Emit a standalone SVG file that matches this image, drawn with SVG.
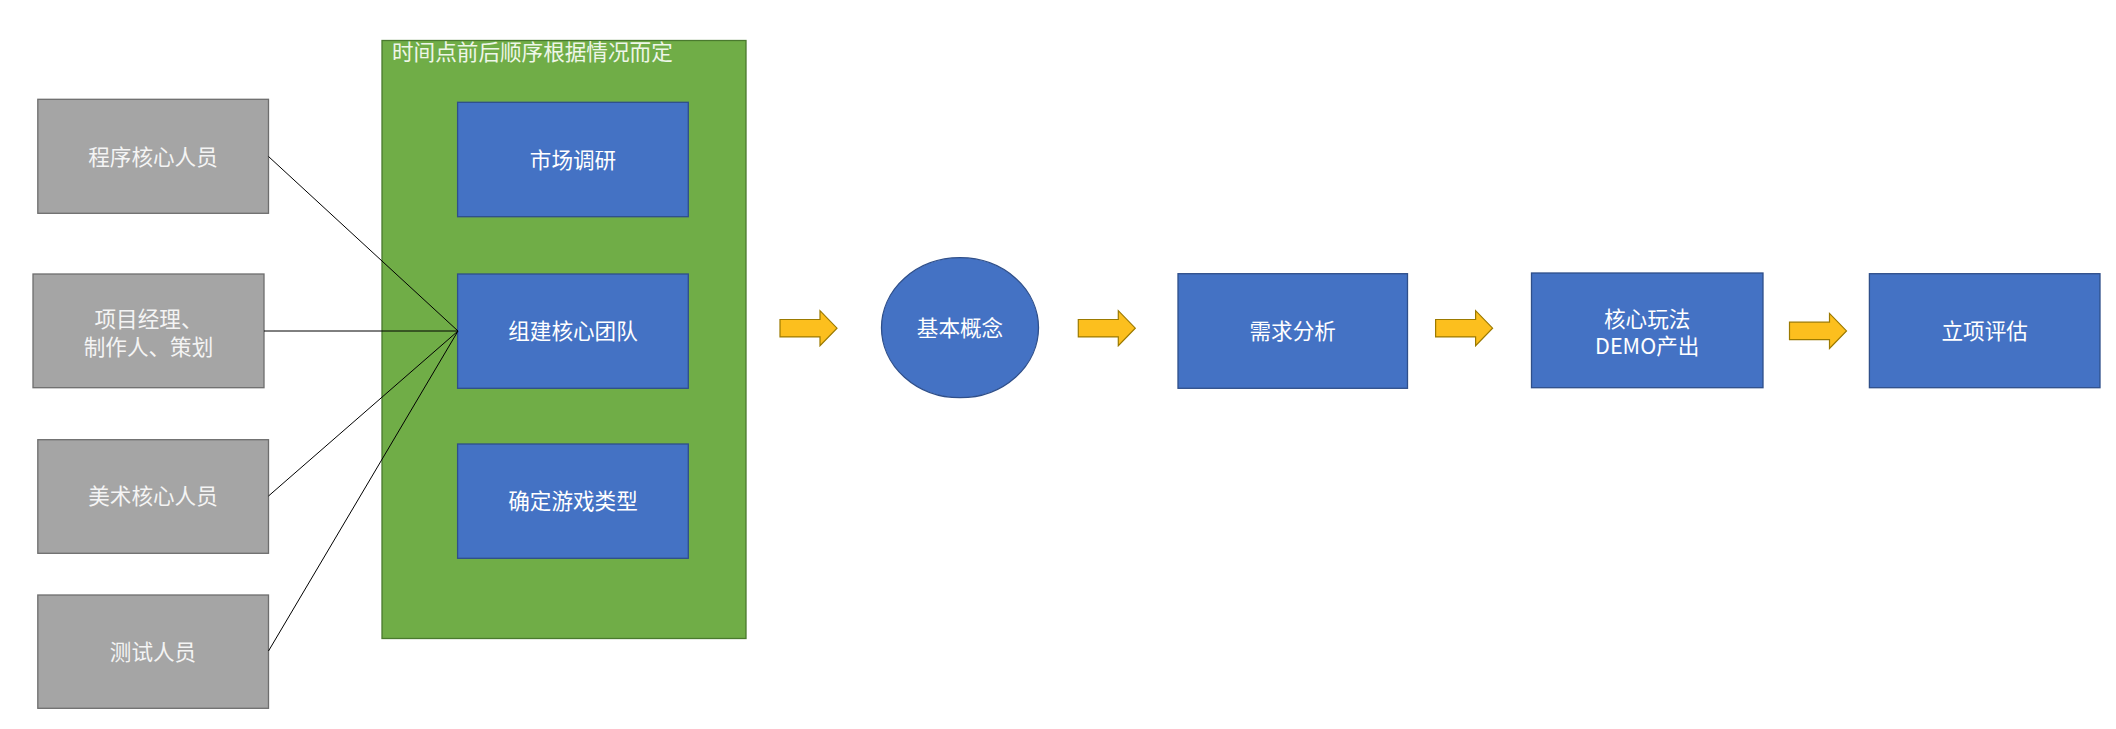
<svg xmlns="http://www.w3.org/2000/svg" width="2116" height="729" viewBox="0 0 2116 729">
<style>
text{font-family:"Noto Sans CJK SC","Noto Sans",sans-serif;font-size:21.6px;text-anchor:middle}
.gray{fill:#a5a5a5;stroke:#6e6e6e;stroke-width:1.3}
.blue{fill:#4472c4;stroke:#2f4f8a;stroke-width:1.3}
.green{fill:#70ad47;stroke:#4a7a2e;stroke-width:1.3}
.tg{fill:#f4f4f4}
.tb{fill:#ffffff}
.arrow{fill:#fcbf1e;stroke:#9c7a00;stroke-width:1.2}
.conn{stroke:#000;stroke-width:1;fill:none}
</style>
<defs>
<path id="blk" d="M0,-8.7 H40 V-17.5 L57,0 L40,17.5 V8.7 H0 Z"/>
</defs>
<g id="group-timeline">
<rect class="green" x="382" y="40.5" width="364" height="598"/>
<text x="392" y="60" style="text-anchor:start;fill:#eef6e8">时间点前后顺序根据情况而定</text>
</g>
<g id="market">
<rect class="blue" x="457.6" y="102.3" width="230.7" height="114.4"/>
<text class="tb" x="573" y="167.5">市场调研</text>
</g>
<g id="team">
<rect class="blue" x="457.6" y="274" width="230.7" height="114.3"/>
<text class="tb" x="573" y="339">组建核心团队</text>
</g>
<g id="genre">
<rect class="blue" x="457.6" y="444" width="230.7" height="114.3"/>
<text class="tb" x="573" y="509">确定游戏类型</text>
</g>
<g id="programmer">
<rect class="gray" x="37.8" y="99.3" width="230.7" height="114"/>
<text class="tg" x="153" y="164.5">程序核心人员</text>
</g>
<g id="pm">
<rect class="gray" x="33" y="274" width="231" height="113.7"/>
<text class="tg" x="148.5" y="326.5">项目经理、</text>
<text class="tg" x="148.5" y="354.5">制作人、策划</text>
</g>
<g id="artist">
<rect class="gray" x="37.8" y="439.7" width="230.7" height="113.6"/>
<text class="tg" x="153" y="504">美术核心人员</text>
</g>
<g id="tester">
<rect class="gray" x="37.8" y="595" width="230.7" height="113.3"/>
<text class="tg" x="153" y="659.5">测试人员</text>
</g>
<g id="connectors">
<line class="conn" x1="268.5" y1="156.5" x2="458" y2="331"/>
<line class="conn" x1="264" y1="331" x2="458" y2="331"/>
<line class="conn" x1="268.5" y1="496" x2="458" y2="331"/>
<line class="conn" x1="268.5" y1="651" x2="458" y2="331"/>
<use href="#blk" class="arrow" transform="translate(780,328.2)"/>
<use href="#blk" class="arrow" transform="translate(1078.3,328.2)"/>
<use href="#blk" class="arrow" transform="translate(1435.6,328.2)"/>
<use href="#blk" class="arrow" transform="translate(1789.5,330.9)"/>
</g>
<g id="concept">
<ellipse class="blue" cx="960" cy="327.7" rx="78.5" ry="70"/>
<text class="tb" x="960" y="336">基本概念</text>
</g>
<g id="requirements">
<rect class="blue" x="1178" y="273.7" width="229.5" height="114.6"/>
<text class="tb" x="1292.7" y="339">需求分析</text>
</g>
<g id="demo">
<rect class="blue" x="1531.5" y="273" width="231.5" height="114.7"/>
<text class="tb" x="1647.2" y="326.5">核心玩法</text>
<text class="tb" x="1647.2" y="354">DEMO产出</text>
</g>
<g id="approval">
<rect class="blue" x="1869.4" y="273.7" width="230.6" height="114"/>
<text class="tb" x="1984.7" y="339">立项评估</text>
</g>
</svg>
